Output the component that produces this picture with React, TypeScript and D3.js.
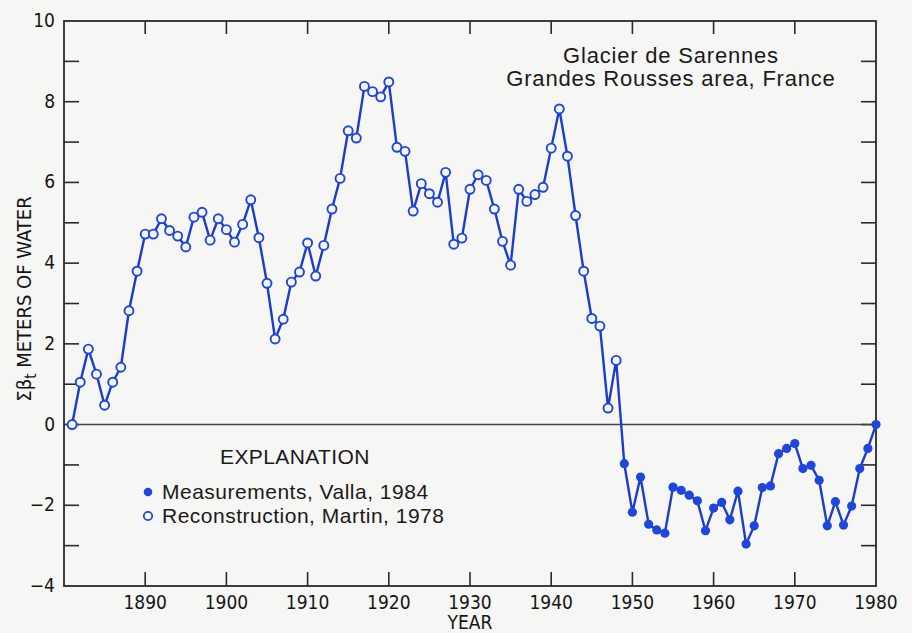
import React, { useEffect, useRef } from 'react';
import * as d3 from 'd3';

// Reconstruction (Martin, 1978), one value per year starting 1881
const reconstructionStart = 1881;
const reconstruction = [
  0.0, 1.05, 1.87, 1.25, 0.48, 1.05, 1.42, 2.82, 3.8, 4.72,
  4.72, 5.1, 4.81, 4.67, 4.4, 5.14, 5.26, 4.57, 5.1, 4.83,
  4.52, 4.96, 5.57, 4.63, 3.5, 2.12, 2.61, 3.53, 3.78, 4.5,
  3.68, 4.44, 5.34, 6.1, 7.28, 7.1, 8.38, 8.25, 8.12, 8.49,
  6.87, 6.77, 5.29, 5.97, 5.72, 5.51, 6.25, 4.47, 4.62, 5.83,
  6.19, 6.05, 5.34, 4.54, 3.95, 5.83, 5.53, 5.7, 5.88, 6.85,
  7.82, 6.65, 5.18, 3.8, 2.63, 2.44, 0.41, 1.59,
];

// Measurements (Valla, 1984), one value per year starting 1949
const measurementStart = 1949;
const measurements = [
  -0.97, -2.17, -1.3, -2.47, -2.61, -2.69, -1.55, -1.63, -1.75, -1.89,
  -2.63, -2.07, -1.93, -2.36, -1.65, -2.96, -2.51, -1.56, -1.52, -0.72,
  -0.59, -0.47, -1.09, -1.01, -1.38, -2.51, -1.91, -2.49, -2.02, -1.09,
  -0.59, 0.0,
];

const yearTicks = [1890, 1900, 1910, 1920, 1930, 1940, 1950, 1960, 1970, 1980];
const valueTicks = [-4, -2, 0, 2, 4, 6, 8, 10];
const minorValueTicks = [-3, -2, -1, 0, 1, 2, 3, 4, 5, 6, 7, 8, 9];
const titleLines = ['Glacier de Sarennes', 'Grandes Rousses area, France'];
const legendTitle = 'EXPLANATION';
const legendLabels = ['Measurements, Valla, 1984', 'Reconstruction, Martin, 1978'];

const W = 912;
const H = 633;
const BG = '#f6f6f5';
const LINE = '#1c3ccc';
const MARK = '#1f46dc';
const AXIS = '#2a2a2a';
const narrow = '"Liberation Sans Narrow", "DejaVu Sans Condensed", "Arial Narrow", sans-serif';
const sans = '"Liberation Sans", Arial, sans-serif';

const App: React.FC = () => {
  const ref = useRef<SVGSVGElement>(null);

  useEffect(() => {
    if (!ref.current) return;
    const svg = d3.select(ref.current);
    svg.selectAll('*').remove();

    const x = d3.scaleLinear().domain([1880, 1980]).range([64, 876]);
    const y = d3.scaleLinear().domain([-4, 10]).range([586, 21]);

    const [x0, x1] = x.range();
    const [y0, y1] = y.range();

    svg.append('rect').attr('width', W).attr('height', H).attr('fill', BG);

    const g = svg.append('g');

    // Ticks (inward) on all four sides
    const tickLen = 14;
    g.selectAll('.tb')
      .data(yearTicks.filter(d => d < 1980))
      .join('line')
      .attr('x1', d => x(d)).attr('x2', d => x(d))
      .attr('y1', y0).attr('y2', y0 - tickLen)
      .attr('stroke', AXIS).attr('stroke-width', 1.6);
    g.selectAll('.tt')
      .data(yearTicks.filter(d => d < 1980))
      .join('line')
      .attr('x1', d => x(d)).attr('x2', d => x(d))
      .attr('y1', y1).attr('y2', y1 + tickLen - 1)
      .attr('stroke', AXIS).attr('stroke-width', 1.6);
    g.selectAll('.tl')
      .data(minorValueTicks)
      .join('line')
      .attr('x1', x0).attr('x2', x0 + tickLen + 1)
      .attr('y1', d => y(d)).attr('y2', d => y(d))
      .attr('stroke', AXIS).attr('stroke-width', 1.6);
    g.selectAll('.tr')
      .data(minorValueTicks)
      .join('line')
      .attr('x1', x1).attr('x2', x1 - tickLen - 1)
      .attr('y1', d => y(d)).attr('y2', d => y(d))
      .attr('stroke', AXIS).attr('stroke-width', 1.6);

    // Zero line
    g.append('line')
      .attr('x1', x0).attr('x2', x1)
      .attr('y1', y(0)).attr('y2', y(0))
      .attr('stroke', '#444').attr('stroke-width', 1.5);

    // Frame
    g.append('rect')
      .attr('x', x0).attr('y', y1)
      .attr('width', x1 - x0).attr('height', y0 - y1)
      .attr('fill', 'none').attr('stroke', AXIS).attr('stroke-width', 1.8);

    // Tick labels
    g.selectAll('.yl')
      .data(valueTicks)
      .join('text')
      .attr('x', x0 - 9)
      .attr('y', d => y(d) + 6)
      .attr('text-anchor', 'end')
      .style('font-family', narrow)
      .style('font-size', '19px')
      .style('font-weight', 500)
      .style('fill', '#151515')
      .text(d => (d < 0 ? `\u2212${Math.abs(d)}` : `${d}`));

    g.selectAll('.xl')
      .data(yearTicks)
      .join('text')
      .attr('x', d => x(d))
      .attr('y', 609)
      .attr('text-anchor', 'middle')
      .style('font-family', narrow)
      .style('font-size', '19px')
      .style('font-weight', 500)
      .style('fill', '#151515')
      .text(d => `${d}`);

    g.append('text')
      .attr('x', 470)
      .attr('y', 629)
      .attr('text-anchor', 'middle')
      .style('font-family', narrow)
      .style('font-size', '19px')
      .style('fill', '#151515')
      .text('YEAR');

    // Y axis label
    const yl = g.append('text')
      .attr('transform', 'translate(31,299) rotate(-90)')
      .attr('text-anchor', 'middle')
      .style('font-family', narrow)
      .style('font-size', '20px')
      .style('fill', '#151515');
    yl.append('tspan').text('\u03A3\u03B2');
    yl.append('tspan').attr('dy', 5).style('font-size', '15px').text('t');
    yl.append('tspan').attr('dy', -5).text(' METERS OF WATER');

    // Title
    g.selectAll('.title')
      .data(titleLines)
      .join('text')
      .attr('x', 671)
      .attr('y', (_, i) => 63 + i * 23)
      .attr('text-anchor', 'middle')
      .style('font-family', sans)
      .style('font-size', '22px')
      .style('letter-spacing', '0.8px')
      .style('fill', '#1a1a1a')
      .text(d => d);

    // Series
    const recon = reconstruction.map((v, i) => ({ year: reconstructionStart + i, value: v }));
    const meas = measurements.map((v, i) => ({ year: measurementStart + i, value: v }));
    const all = [...recon, ...meas];

    g.append('path')
      .datum(all)
      .attr('fill', 'none')
      .attr('stroke', LINE)
      .attr('stroke-width', 2.4)
      .attr('stroke-linejoin', 'round')
      .attr('d', d3.line<{ year: number; value: number }>()
        .x(d => x(d.year))
        .y(d => y(d.value)));

    g.selectAll('.open')
      .data(recon)
      .join('circle')
      .attr('cx', d => x(d.year))
      .attr('cy', d => y(d.value))
      .attr('r', 4.5)
      .attr('fill', BG)
      .attr('stroke', MARK)
      .attr('stroke-width', 1.9);

    g.selectAll('.filled')
      .data(meas)
      .join('circle')
      .attr('cx', d => x(d.year))
      .attr('cy', d => y(d.value))
      .attr('r', 4.6)
      .attr('fill', MARK);

    // Legend
    const legend = g.append('g');
    legend.append('text')
      .attr('x', 220).attr('y', 464)
      .style('font-family', sans)
      .style('font-size', '21px')
      .style('letter-spacing', '0.4px')
      .style('fill', '#1a1a1a')
      .text(legendTitle);

    legendLabels.forEach((label, i) => {
      const cy = 492 + i * 24;
      legend.append('circle')
        .attr('cx', 148).attr('cy', cy)
        .attr('r', i === 0 ? 4.3 : 4.2)
        .attr('fill', i === 0 ? MARK : BG)
        .attr('stroke', i === 0 ? 'none' : MARK)
        .attr('stroke-width', 1.8);
      legend.append('text')
        .attr('x', 162).attr('y', cy + 7)
        .style('font-family', sans)
        .style('font-size', '21px')
        .style('letter-spacing', '0.5px')
        .style('fill', '#1a1a1a')
        .text(label);
    });
  }, []);

  return (
    <svg
      ref={ref}
      width={W}
      height={H}
      style={{ position: 'absolute', left: 0, top: 0, display: 'block' }}
    />
  );
};

export default App;
